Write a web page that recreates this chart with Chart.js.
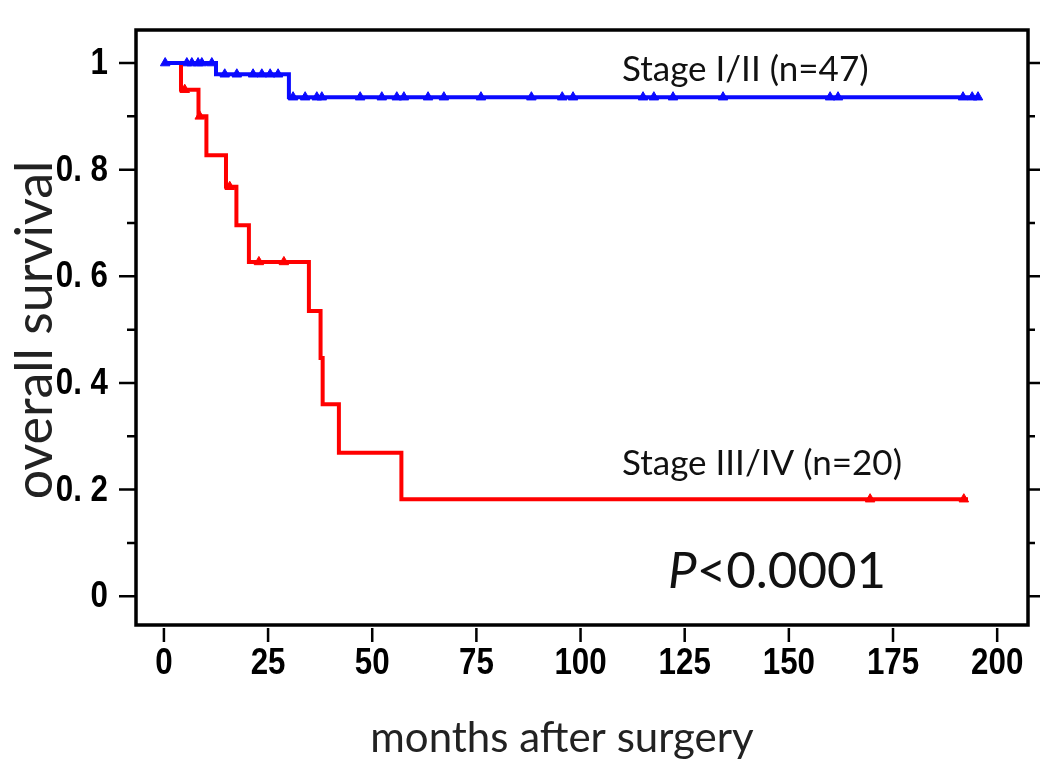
<!DOCTYPE html>
<html lang="en">
<head>
  <meta charset="UTF-8">
  <title>Overall survival by stage</title>
  <script src="https://cdn.jsdelivr.net/npm/chart.js"></script>
  <style>
    body { margin: 0; padding: 0; background: white; }
    canvas { display: block; }
  </style>
</head>
<body>
  <canvas id="kmChart" width="1050" height="769"></canvas>

  <script>
    // Stage I/II (n=47): step times (months) and survival after each step
    const blueTimes = [0, 12.5, 30, 195.5];
    const blueSurv  = [1, 0.979, 0.936, 0.936];
    const blueCensor = [0.3, 5.5, 6.7, 8.2, 9.1, 11.5, 14.6, 17.5, 21.4, 23.5, 25.5, 27.4,
                        31, 33.9, 36.7, 37.9, 47.1, 52.3, 55.9, 57.6, 63.4, 67.2, 76.1, 88.2,
                        95.6, 98.2, 115, 117.6, 122.2, 134.2, 159.9, 161.8, 191.8, 194, 195.4];

    // Stage III/IV (n=20)
    const redTimes = [0, 4.1, 8.3, 10.2, 14.9, 17.4, 20.4, 34.8, 37.6, 38.1, 42, 57, 193];
    const redSurv  = [1, 0.95, 0.9, 0.827, 0.768, 0.696, 0.627, 0.535, 0.447, 0.36, 0.269, 0.182, 0.182];
    const redCensor = [5, 8.6, 15.8, 22.8, 28.8, 169.5, 192];

    const xTicks = [0, 25, 50, 75, 100, 125, 150, 175, 200];
    const yTicks = [0, 0.2, 0.4, 0.6, 0.8, 1];
    const yMinor = [0.1, 0.3, 0.5, 0.7, 0.9];
    const yLabels = ['0', '0. 2', '0. 4', '0. 6', '0. 8', '1'];

    const labelFont = "bold 36px 'Liberation Sans', Arial, sans-serif";
    const textFont = "Lato, 'Open Sans', sans-serif";

    // survival value at time t from a step curve
    function survAt(times, surv, t) {
      let s = surv[0];
      for (let i = 0; i < times.length; i++) {
        if (times[i] <= t) s = surv[i];
      }
      return s;
    }

    const toPoints = (times, surv) => times.map((t, i) => ({ x: t, y: surv[i] }));
    const censorPoints = (cs, times, surv) => cs.map(t => ({ x: t, y: survAt(times, surv, t) }));

    const blueColor = '#0a0aff';
    const redColor = '#ff0000';

    // condensed bold label (narrow font look)
    function narrowText(ctx, str, px, py, align) {
      ctx.save();
      ctx.translate(px, py);
      ctx.scale(0.87, 1);
      ctx.textAlign = align;
      ctx.fillText(str, 0, 0);
      ctx.restore();
    }

    // frame, outward ticks, tick labels, axis titles and text labels
    const framePlugin = {
      id: 'frame',
      afterDatasetsDraw(chart) {
        const { ctx, chartArea: a, scales: { x, y } } = chart;
        ctx.save();
        ctx.strokeStyle = '#000';
        ctx.lineWidth = 3.5;
        ctx.strokeRect(a.left, a.top, a.right - a.left, a.bottom - a.top);

        ctx.lineWidth = 2.5;
        ctx.beginPath();
        yTicks.forEach(v => {
          const py = y.getPixelForValue(v);
          ctx.moveTo(a.left - 17, py); ctx.lineTo(a.left, py);
          ctx.moveTo(a.right, py); ctx.lineTo(a.right + 12, py);
        });
        yMinor.forEach(v => {
          const py = y.getPixelForValue(v);
          ctx.moveTo(a.left - 9, py); ctx.lineTo(a.left, py);
          ctx.moveTo(a.right, py); ctx.lineTo(a.right + 7, py);
        });
        xTicks.forEach(v => {
          const px = x.getPixelForValue(v);
          ctx.moveTo(px, a.bottom + 3); ctx.lineTo(px, a.bottom + 17);
        });
        ctx.stroke();

        // tick labels
        ctx.fillStyle = '#000';
        ctx.font = labelFont;
        ctx.textBaseline = 'middle';
        yTicks.forEach((v, i) => narrowText(ctx, yLabels[i], a.left - 28, y.getPixelForValue(v) + 1, 'right'));
        xTicks.forEach(v => narrowText(ctx, String(v), x.getPixelForValue(v), a.bottom + 39, 'center'));

        ctx.fillStyle = '#111';
        ctx.textAlign = 'left';
        ctx.textBaseline = 'middle';
        ctx.font = "35px " + textFont;
        ctx.fillText('Stage I/II (n=47)', 622, 70);
        ctx.fillText('Stage III/IV (n=20)', 622, 464);
        ctx.font = "italic 51px " + textFont;
        ctx.fillText('P', 668, 572);
        const pw = ctx.measureText('P').width;
        ctx.font = "51px " + textFont;
        ctx.fillText('<0.0001', 668 + pw, 572);

        // axis titles
        ctx.fillStyle = '#222';
        ctx.textAlign = 'center';
        ctx.textBaseline = 'alphabetic';
        ctx.font = "42px " + textFont;
        ctx.fillText('months after surgery', 562, 752);
        ctx.translate(52, 330);
        ctx.rotate(-Math.PI / 2);
        ctx.font = "52px " + textFont;
        ctx.fillText('overall survival', 0, 0);
        ctx.restore();
      }
    };

    const ctx = document.getElementById('kmChart').getContext('2d');
    new Chart(ctx, {
      type: 'scatter',
      data: {
        datasets: [
          {
            label: 'Stage I/II',
            data: toPoints(blueTimes, blueSurv),
            showLine: true, stepped: 'before',
            borderColor: blueColor, borderWidth: 4, pointRadius: 0
          },
          {
            label: 'Stage III/IV',
            data: toPoints(redTimes, redSurv),
            showLine: true, stepped: 'before',
            borderColor: redColor, borderWidth: 4, pointRadius: 0
          },
          {
            label: 'Stage I/II censored',
            data: censorPoints(blueCensor, blueTimes, blueSurv),
            pointStyle: 'triangle', pointRadius: 5.5,
            backgroundColor: blueColor, borderColor: blueColor, borderWidth: 1
          },
          {
            label: 'Stage III/IV censored',
            data: censorPoints(redCensor, redTimes, redSurv),
            pointStyle: 'triangle', pointRadius: 5.5,
            backgroundColor: redColor, borderColor: redColor, borderWidth: 1
          }
        ]
      },
      options: {
        responsive: false,
        animation: false,
        layout: { padding: { top: 30, right: 22, left: 0, bottom: 0 } },
        plugins: {
          legend: { display: false },
          tooltip: { enabled: false }
        },
        scales: {
          x: {
            type: 'linear',
            min: -6.7, max: 207.4,
            afterFit: s => { s.height = 144; s.paddingLeft = 0; s.paddingRight = 0; },
            grid: { display: false },
            border: { display: false },
            ticks: { display: false }
          },
          y: {
            type: 'linear',
            min: -0.054, max: 1.062,
            afterFit: s => { s.width = 136; s.paddingTop = 0; s.paddingBottom = 0; },
            grid: { display: false },
            border: { display: false },
            ticks: { display: false }
          }
        }
      },
      plugins: [framePlugin]
    });
  </script>
</body>
</html>
